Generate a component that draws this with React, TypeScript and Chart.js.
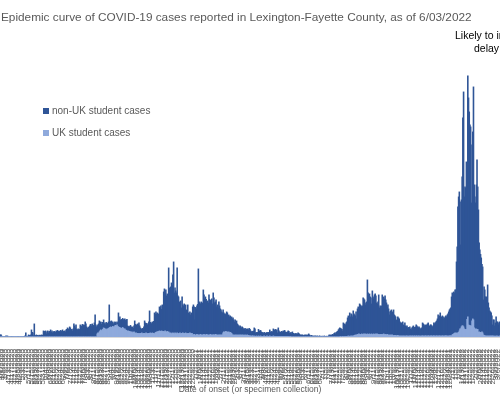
import React, { useEffect, useRef } from 'react';
import { Chart, registerables } from 'chart.js';

Chart.register(...registerables);

const FONT = '"Liberation Sans", Arial, sans-serif';
const TITLE = 'Epidemic curve of COVID-19 cases reported in Lexington-Fayette County, as of 6/03/2022';
const AXIS_TITLE = 'Date of onset (or specimen collection)';
const NOTE_LINES = ['Likely to increase due to', 'delay in reporting'];
const SERIES_NAMES = ['UK student cases', 'non-UK student cases'];
const SERIES_COLORS = ['#8FAADC', '#2F5597'];
const START_DATE = { year: 2020, month: 4, day: 1 };

// UK student cases, one value per day (one row per week)
const ukCases: number[] = [
  0,0,0,0,0,0,0, 0,0,0,0,0,0,0, 0,0,0,0,0,0,0, 0,0,0,0,0,0,0, 0,0,0,0,0,0,0,
  0,0,0,0,0,0,0, 0,0,0,0,0,0,0, 0,0,0,0,0,0,0, 0,0,0,0,0,0,0, 0,0,0,0,0,0,0,
  0,0,0,0,0,0,0, 0,0,0,0,0,0,0, 0,0,0,0,0,0,0, 0,0,0,0,0,0,0, 0,0,0,0,0,0,0,
  0,0,0,0,0,0,0, 0,0,0,0,0,0,0, 0,0,0,0,0,0,0, 0,0,0,0,0,0,0,
  0,0,0,0,12,16,14,
  20,24,28,24,26,30,36,
  34,32,30,28,32,30,34,
  36,38,40,38,36,42,40,
  38,44,46,44,48,42,40,
  38,36,36,34,32,38,34,
  30,32,28,26,24,22,24,
  20,22,20,18,20,16,18,
  20,16,14,16,12,14,12,
  14,12,14,12,16,12,14,
  12,14,12,16,14,12,14,
  12,14,16,12,14,16,12,
  14,12,16,18,20,18,22,
  20,24,22,20,24,22,18,
  22,20,24,18,20,22,18,
  20,16,14,16,12,14,16,
  14,12,16,14,12,16,14,
  12,14,16,12,14,12,16,
  14,12,14,16,12,14,12,
  14,12,16,14,12,14,8,
  8,10,8,6,8,10,8,
  8,6,8,10,8,6,8,
  8,10,6,8,8,10,6,
  8,6,8,10,8,6,8,
  8,8,6,10,8,8,6,
  8,6,8,8,6,8,8,
  16,20,18,20,22,18,20,
  18,20,16,18,16,14,8,
  8,6,8,6,8,6,8,
  6,8,6,8,6,8,6,
  8,6,6,8,6,6,8,
  6,6,4,4,4,2,4,
  4,2,4,2,2,4,2,
  2,4,2,2,4,2,2,
  2,2,4,2,2,2,4,
  2,2,2,4,2,2,2,
  2,4,2,2,2,2,2,
  2,2,2,2,2,2,2,
  2,2,0,2,2,0,2,
  2,0,2,0,2,0,0,
  0,0,0,0,0,0,0, 0,0,0,0,0,0,0, 0,0,0,0,0,0,0, 0,0,0,0,0,0,0, 0,0,0,0,0,0,0,
  0,0,0,0,0,0,0, 0,0,0,0,0,0,0, 0,0,0,0,0,0,0, 0,0,0,0,0,0,0,
  0,0,0,0,0,2,0,
  0,2,0,2,0,2,2,
  2,2,4,2,2,4,2,
  4,2,4,4,6,8,6,
  8,10,8,12,10,8,10,
  12,10,8,12,10,12,8,
  10,12,8,10,12,8,10,
  12,8,10,12,10,8,12,
  10,12,8,10,8,10,8,
  10,8,10,12,8,10,8,
  8,10,8,6,8,6,8,
  6,8,6,4,6,4,6,
  4,4,6,4,4,2,4,
  4,2,4,4,2,4,2,
  4,4,2,4,2,4,4,
  2,4,4,2,4,4,2,
  4,4,2,4,4,2,4,
  2,4,4,4,2,4,4,
  4,2,4,4,4,2,4,
  4,4,2,4,4,4,2,
  4,4,4,2,4,4,4,
  2,4,4,4,2,4,4,
  4,4,4,2,4,4,4,
  4,4,8,10,12,14,16,
  14,16,12,16,18,24,32,
  32,40,44,44,40,32,30,
  28,30,70,80,48,44,46,
  42,44,64,72,68,36,32,
  30,32,28,30,18,20,16,
  18,16,20,16,8,6,4,
  4,4,2,4,4,2,4,
  4,2,4,4,2,4,2,
  2,4,2,4,2,2,4,
];

// non-UK student cases, one value per day (one row per week)
const nonUkCases: number[] = [
  8,8,3,0,0,1,0,
  0,4,0,4,0,0,0,
  0,0,1,0,0,0,0,
  0,0,0,0,1,0,0,
  0,0,0,0,0,0,2,
  4,16,2,0,3,8,6,
  6,8,28,18,16,5,52,
  6,4,8,5,6,4,7,
  6,5,8,6,7,24,22,
  16,24,12,20,24,16,22,
  20,28,18,24,16,20,22,
  20,18,24,18,26,22,18,
  22,26,20,24,28,22,20,
  24,20,28,30,36,32,30,
  40,36,26,30,24,32,52,
  44,36,48,30,28,32,26,
  30,48,36,44,50,42,48,
  46,60,52,40,36,32,38,
  42,48,50,44,52,40,46,
  56,88,48,40,32,32,38,
  44,32,32,26,32,24,32,
  18,24,18,30,18,24,26,
  92,24,18,26,20,18,12,
  18,16,12,8,12,14,56,
  34,44,30,36,32,36,34,
  40,40,38,42,46,22,16,
  22,16,26,22,16,24,16,
  24,48,36,32,34,38,36,
  42,32,22,20,14,22,18,
  28,50,44,34,40,36,38,
  48,90,42,44,38,44,42,
  48,84,74,82,72,78,62,
  72,96,94,104,86,106,100,
  158,172,152,170,144,150,142,
  256,180,170,184,204,194,232,
  286,164,180,170,164,260,150,
  148,126,120,132,102,148,112,
  110,120,106,112,96,90,116,
  82,80,84,74,84,78,112,
  120,110,60,112,104,114,122,
  264,134,128,122,132,122,128,
  180,158,146,152,142,130,138,
  128,162,142,136,132,146,124,
  168,148,130,130,140,112,122,
  108,134,116,104,102,92,88,
  92,76,74,68,70,82,76,
  66,68,64,66,60,66,64,
  68,62,52,62,48,58,44,
  42,36,34,36,34,28,34,
  28,26,24,26,22,26,22,
  26,22,30,26,20,18,18,
  16,22,32,30,14,14,12,
  16,26,22,20,22,18,16,
  14,12,14,10,14,12,14,
  14,16,12,24,18,16,20,
  16,28,26,24,28,22,26,
  14,34,22,16,18,14,20,
  16,22,22,24,18,16,16,
  18,24,20,16,12,18,12,
  20,12,14,10,12,14,10,
  12,16,14,10,8,6,8,
  8,6,4,8,6,8,6,
  8,6,12,8,4,4,6,
  4,2,4,0,4,3,2,
  4,2,0,4,3,0,2,
  3,0,2,4,0,2,3,
  2,0,4,8,6,8,6,
  8,10,8,14,16,12,18,
  20,22,28,32,36,32,32,
  30,22,56,50,50,46,54,
  58,74,80,70,94,76,90,
  84,78,100,88,82,76,94,
  64,102,112,100,122,120,114,
  108,114,148,140,138,116,128,
  130,216,168,158,160,152,146,
  120,176,150,140,158,164,152,
  126,120,132,158,108,114,112,
  114,160,146,148,144,154,140,
  128,110,120,106,80,94,96,
  102,88,94,104,82,80,74,
  64,60,74,72,68,58,52,
  52,50,56,44,42,52,42,
  36,40,34,34,32,36,28,
  26,32,36,42,32,34,38,
  44,40,38,32,36,34,28,
  30,32,52,48,46,40,44,
  36,46,48,52,36,42,44,
  44,40,38,40,52,48,54,
  56,60,68,86,76,80,92,
  74,76,80,76,70,72,76,
  80,76,84,90,96,104,108,
  112,156,168,158,168,162,172,
  174,284,348,504,542,556,508,
  336,508,596,832,940,528,570,
  568,670,598,964,908,856,802,
  798,492,704,748,932,572,528,
  506,576,680,570,490,356,332,
  312,300,270,264,140,194,184,
  156,156,118,204,132,114,100,
  96,94,80,44,66,64,42,
  54,76,58,56,46,54,56,
];

// Daily category labels (M/D/YYYY), one per bar
const dateLabels: string[] = [];
for (let i = 0; i < nonUkCases.length; i++) {
  const d = new Date(Date.UTC(START_DATE.year, START_DATE.month - 1, START_DATE.day + i));
  dateLabels.push(`${d.getUTCMonth() + 1}/${d.getUTCDate()}/${d.getUTCFullYear()}`);
}

const textPlugin = {
  id: 'chartTexts',
  afterDraw(chart: any) {
    const ctx = chart.ctx as CanvasRenderingContext2D;
    ctx.save();
    ctx.textBaseline = 'middle';
    ctx.textAlign = 'left';
    // title
    ctx.fillStyle = '#595959';
    ctx.font = `11.8px ${FONT}`;
    ctx.fillText(TITLE, 1, 17.5);
    // legend (top series first)
    const legendOrder = [1, 0];
    const legendY = [111, 133];
    ctx.font = `10px ${FONT}`;
    legendOrder.forEach((si, k) => {
      ctx.fillStyle = SERIES_COLORS[si];
      ctx.fillRect(43, legendY[k] - 3, 6, 6);
      ctx.fillStyle = '#595959';
      ctx.fillText(SERIES_NAMES[si], 52, legendY[k]);
    });
    // note
    ctx.fillStyle = '#000000';
    ctx.font = `10.5px ${FONT}`;
    ctx.fillText(NOTE_LINES[0], 455, 36);
    ctx.fillText(NOTE_LINES[1], 474, 49);
    ctx.restore();
  },
};

export default function App() {
  const canvasRef = useRef<HTMLCanvasElement | null>(null);

  useEffect(() => {
    const canvas = canvasRef.current;
    if (!canvas) return;
    const chart = new Chart(canvas, {
      type: 'bar',
      data: {
        labels: dateLabels,
        datasets: [
          {
            label: SERIES_NAMES[0],
            data: ukCases,
            backgroundColor: SERIES_COLORS[0],
            borderWidth: 0,
            barPercentage: 1,
            categoryPercentage: 1,
            inflateAmount: 0.45,
          },
          {
            label: SERIES_NAMES[1],
            data: nonUkCases,
            backgroundColor: SERIES_COLORS[1],
            borderWidth: 0,
            barPercentage: 1,
            categoryPercentage: 1,
            inflateAmount: 0.45,
          },
        ],
      },
      options: {
        responsive: false,
        animation: false,
        events: [],
        layout: { padding: { top: 37, left: 0, right: 0, bottom: 0 } },
        plugins: {
          legend: { display: false },
          title: { display: false },
          tooltip: { enabled: false },
        },
        scales: {
          x: {
            stacked: true,
            grid: { display: false },
            border: { display: true, color: '#D9D9D9', width: 1 },
            ticks: {
              autoSkip: false,
              minRotation: 90,
              maxRotation: 90,
              padding: 4,
              color: '#595959',
              font: { size: 8, family: FONT },
              callback: (_v: any, i: number) => (i % 4 === 0 ? dateLabels[i] : ''),
            },
            title: {
              display: true,
              text: AXIS_TITLE,
              color: '#595959',
              font: { size: 8.5, family: FONT },
              padding: { top: 0, bottom: 1 },
            },
            afterFit: (scale: any) => {
              scale.height = 59;
              scale.paddingLeft = 0;
              scale.paddingRight = 0;
            },
          },
          y: {
            stacked: true,
            display: false,
            min: 0,
            max: 1200,
          },
        },
      },
      plugins: [textPlugin],
    });
    return () => chart.destroy();
  }, []);

  return (
    <div style={{ position: 'fixed', left: 0, top: 0, width: 500, height: 396, overflow: 'hidden', background: '#ffffff' }}>
      <canvas ref={canvasRef} width={500} height={396} style={{ width: 500, height: 396, display: 'block' }} />
    </div>
  );
}
